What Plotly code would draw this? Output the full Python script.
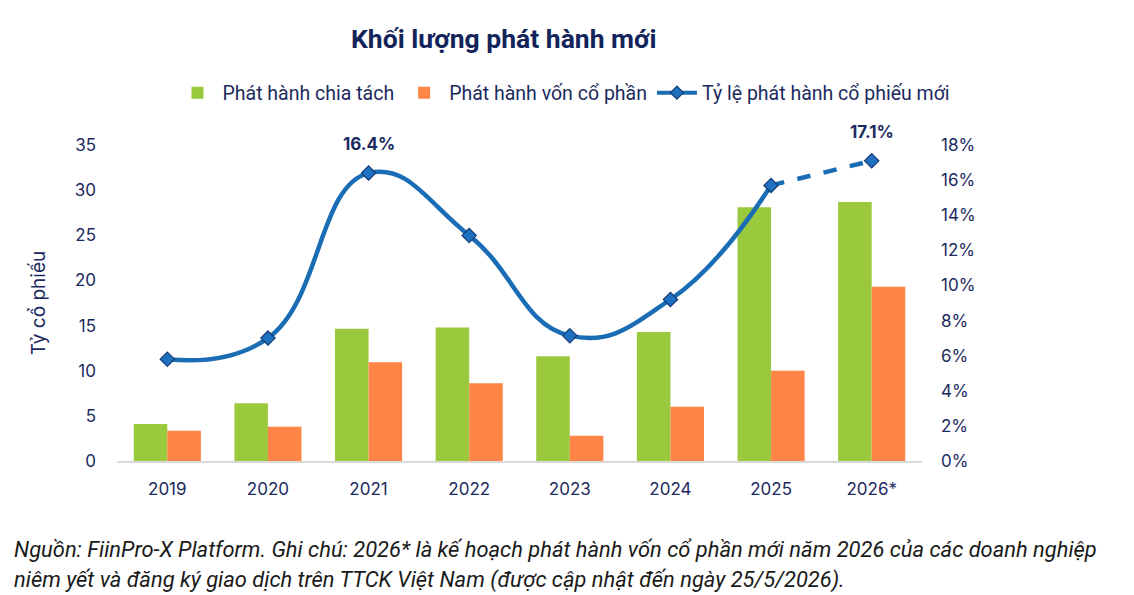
import plotly.graph_objects as go

years = ["2019", "2020", "2021", "2022", "2023", "2024", "2025", "2026*"]
chia_tach = [4.1, 6.4, 14.65, 14.8, 11.6, 14.3, 28.1, 28.7]
von_co_phan = [3.35, 3.8, 10.95, 8.6, 2.8, 6.0, 10.0, 19.3]
ty_le = [0.058, 0.070, 0.164, 0.1285, 0.0714, 0.092, 0.157, 0.171]
labeled = ["2021", "2026*"]

NAVY = "#1B2A5E"
GREEN = "#9BC93E"
ORANGE = "#FF8546"
BLUE = "#1A6DB5"
TICK_FONT = "Inter, Open Sans, sans-serif"
TXT_FONT = "Roboto, sans-serif"

L, R, T, B = 117, 212, 145, 133.5
PW, PH = 1134 - L - R, 595 - T - B


def px_to_paper(xp, yp):
    return (xp - L) / PW, (595 - B - yp) / PH


fig = go.Figure()
fig.add_trace(go.Bar(x=years, y=chia_tach, name="Phát hành chia tách",
                     marker=dict(color=GREEN, line=dict(width=0))))
fig.add_trace(go.Bar(x=years, y=von_co_phan, name="Phát hành vốn cổ phần",
                     marker=dict(color=ORANGE, line=dict(width=0))))
# dashed forecast segment
fig.add_trace(go.Scatter(x=years[6:], y=ty_le[6:], yaxis="y2", mode="lines",
                         line=dict(color=BLUE, width=4.5, dash="dash"),
                         showlegend=False, hoverinfo="skip"))
fig.add_trace(go.Scatter(x=years[:7], y=ty_le[:7], yaxis="y2", mode="lines",
                         line=dict(color=BLUE, width=4.5, shape="spline", smoothing=1.3),
                         showlegend=False))
fig.add_trace(go.Scatter(x=years, y=ty_le, yaxis="y2", mode="markers",
                         marker=dict(symbol="diamond", size=11, color="#1F70C1",
                                     line=dict(color="#143C74", width=1.2)),
                         showlegend=False))
# legend-only entry combining line+marker
fig.add_trace(go.Scatter(x=[None], y=[None], yaxis="y2", mode="lines+markers",
                         name="Tỷ lệ phát hành cổ phiếu mới",
                         line=dict(color=BLUE, width=4),
                         marker=dict(symbol="diamond", size=10, color="#1F70C1",
                                     line=dict(color="#143C74", width=1.2))))

for yr in labeled:
    i = years.index(yr)
    fig.add_annotation(x=i, y=ty_le[i], xref="x", yref="y2", text=f"<b>{ty_le[i]*100:.1f}%</b>",
                       showarrow=False, yshift=29,
                       font=dict(family=TICK_FONT, size=17, color=NAVY))

tx, ty = px_to_paper(503, 38)
fig.add_annotation(x=tx, y=ty, xref="paper", yref="paper", text="<b>Khối lượng phát hành mới</b>",
                   showarrow=False, xanchor="center", yanchor="middle",
                   font=dict(family=TXT_FONT, size=26.5, color="#13245A"))

note1 = "Nguồn: FiinPro-X Platform. Ghi chú: 2026* là kế hoạch phát hành vốn cổ phần mới năm 2026 của các doanh nghiệp"
note2 = "niêm yết và đăng ký giao dịch trên TTCK Việt Nam (được cập nhật đến ngày 25/5/2026)."
for txt, ypx in ((note1, 550), (note2, 581)):
    nx, ny = px_to_paper(12, ypx)
    fig.add_annotation(x=nx, y=ny, xref="paper", yref="paper", text=f"<i>{txt}</i>",
                       showarrow=False, xanchor="left", yanchor="middle",
                       font=dict(family=TXT_FONT, size=21.9, color="#1a1a1a"))

fig.update_layout(
    width=1134, height=595,
    margin=dict(l=L, r=R, t=T, b=B, autoexpand=False),
    paper_bgcolor="white", plot_bgcolor="white",
    barmode="group", bargap=0.333, bargroupgap=0,
    showlegend=True,
    legend=dict(orientation="h", x=564 / 1134, xref="container", xanchor="center",
                y=1 - 93 / 595, yref="container", yanchor="middle",
                font=dict(family=TXT_FONT, size=19.5, color=NAVY),
                itemwidth=40, traceorder="normal", bgcolor="rgba(0,0,0,0)"),
    xaxis=dict(type="category", range=[-0.5, 7.5], showgrid=False, zeroline=False,
               showline=True, linecolor="#D9D9D9", linewidth=1.5, ticks="",
               tickfont=dict(family=TICK_FONT, size=17, color=NAVY), ticklabelstandoff=12),
    yaxis=dict(range=[0, 35], dtick=5, showgrid=False, zeroline=False, showline=False,
               tickfont=dict(family=TICK_FONT, size=17, color=NAVY), ticklabelstandoff=20,
               title=dict(text="Tỷ cổ phiếu", font=dict(family=TICK_FONT, size=19, color=NAVY),
                          standoff=24)),
    yaxis2=dict(range=[0, 0.18], dtick=0.02, tickformat=".0%", overlaying="y", side="right",
                showgrid=False, zeroline=False, showline=False,
                tickfont=dict(family=TICK_FONT, size=17, color=NAVY), ticklabelstandoff=18),
)

fig.write_html("out.html")
